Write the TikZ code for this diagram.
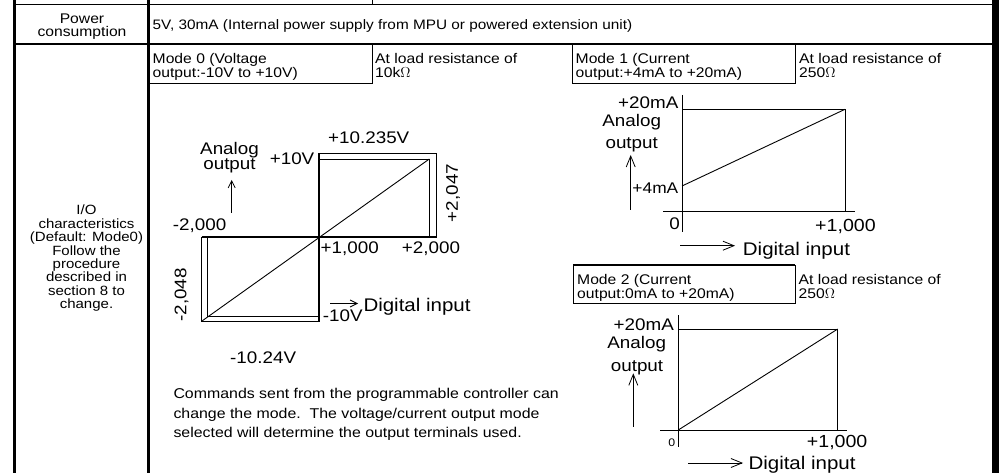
\documentclass[tikz,border=0pt]{standalone}
\usepackage{fontspec}
\setmainfont{Liberation Sans}[FakeStretch=1.12]
\usetikzlibrary{arrows.meta}
\begin{document}
\begin{tikzpicture}[x=1pt,y=-1pt,
  thinline/.style={line width=0.9pt},
  axisline/.style={line width=2pt},
  frameline/.style={line width=3pt},
  tbl/.style={inner sep=0pt, font=\fontsize{14}{14}\selectfont},
  sidetxt/.style={inner sep=0pt, font=\fontsize{13.4}{13.4}\selectfont},
  lab/.style={inner sep=0pt, font=\fontsize{16.8}{16.8}\selectfont},
  labk/.style={inner sep=0pt, font=\fontsize{17.5}{17.5}\selectfont},
  labs/.style={inner sep=0pt, font=\fontsize{15.5}{15.5}\selectfont},
  dig/.style={inner sep=0pt, font=\fontsize{18.3}{18.3}\selectfont},
  note/.style={inner sep=0pt, font=\fontsize{14.2}{14.2}\selectfont},
  small/.style={inner sep=0pt, font=\fontsize{11}{11}\selectfont},
  arrA/.style={line width=0.8pt, -{Straight Barb[length=7pt,width=7pt]}},
  arrB/.style={line width=0.8pt, -{Straight Barb[length=11pt,width=9pt]}},
]
\useasboundingbox (0,0) rectangle (999,473);

% ---- table frame
\draw[frameline] (14,0) -- (14,473);
\draw[frameline] (148,0) -- (148,473);
\fill (992,0) rectangle (999,473);
\draw[thinline] (14,4) -- (992,4);
\draw[thinline] (372,0) -- (372,4);
\draw[line width=2.2pt] (14,44) -- (992,44);

% ---- header boxes
\draw[thinline] (148,83) -- (372,83) -- (372,44);
\draw[thinline] (572,44) rectangle (795,83);
\draw[thinline] (573,265) rectangle (795,303);
\draw[line width=1.8pt] (573,265) -- (795,265);

% ---- table texts
\node[tbl, anchor=base] (pw1) at (82,24) {Power};
\node[tbl, anchor=base] (pw2) at (82,37) {consumption};
\node[tbl, anchor=base west, font=\fontsize{13.7}{13.7}\selectfont] (pwv) at (152.5,29.5) {5V, 30mA (Internal power supply from MPU or powered extension unit)};

\node[sidetxt, anchor=base] (io1) at (86.5,215) {I/O};
\node[sidetxt, anchor=base] (io2) at (86.5,228.4) {characteristics};
\node[sidetxt, anchor=base] (io3) at (86.5,241.7) {(Default: Mode0)};
\node[sidetxt, anchor=base] (io4) at (86.5,255.1) {Follow the};
\node[sidetxt, anchor=base] (io5) at (86.5,268.4) {procedure};
\node[sidetxt, anchor=base] (io6) at (86.5,281.8) {described in};
\node[sidetxt, anchor=base] (io7) at (86.5,295.1) {section 8 to};
\node[sidetxt, anchor=base] (io8) at (86.5,308.5) {change.};

\node[tbl, anchor=base west] (m0a) at (152.5,63.3) {Mode 0 (Voltage};
\node[tbl, anchor=base west] (m0b) at (152.5,77.3) {output:-10V to +10V)};
\node[tbl, anchor=base west] (r0a) at (375,63.3) {At load resistance of};
\node[tbl, anchor=base west] (r0b) at (375,77.3) {10k$\Omega$};

\node[tbl, anchor=base west] (m1a) at (575.5,63.3) {Mode 1 (Current};
\node[tbl, anchor=base west] (m1b) at (575.5,77.3) {output:+4mA to +20mA)};
\node[tbl, anchor=base west] (r1a) at (799,63.3) {At load resistance of};
\node[tbl, anchor=base west] (r1b) at (799,77.3) {250$\Omega$};

\node[tbl, anchor=base west] (m2a) at (577,284.5) {Mode 2 (Current};
\node[tbl, anchor=base west] (m2b) at (577,298.5) {output:0mA to +20mA)};
\node[tbl, anchor=base west] (r2a) at (798.5,284.5) {At load resistance of};
\node[tbl, anchor=base west] (r2b) at (798.5,298.5) {250$\Omega$};

% ---- Mode 0 chart
\draw[thinline] (319,153.3) -- (436.7,153.3) -- (436.7,237.3);
\draw[thinline] (319,159) -- (429.3,159) -- (429.3,237.3);
\draw[thinline] (201.7,237.3) -- (201.7,321.7) -- (319,321.7);
\draw[thinline] (207.7,237.3) -- (207.7,316) -- (319,316);
\draw[axisline] (201.7,237.3) -- (436.7,237.3);
\draw[axisline] (319,153.3) -- (319,321.7);
\draw[thinline] (202,321) -- (429.3,159);

\node[lab, anchor=base west] (v1) at (328,144) {+10.235V};
\node[lab, anchor=base east] (v2) at (314.5,165) {+10V};
\node[lab, anchor=base] (an0a) at (229.5,154.5) {Analog};
\node[lab, anchor=base] (an0b) at (229.5,170) {output};
\coordinate (u0s) at (231.7,212.7);
\coordinate (u0e) at (231.7,180);
\draw[arrA] (u0s) -- (u0e);
\node[lab, anchor=base west] (d1) at (172.7,231) {-2,000};
\node[lab, anchor=base west] (d2) at (320.5,253.3) {+1,000};
\node[lab, anchor=base west] (d3) at (401.7,253.3) {+2,000};
\node[lab, rotate=90] (d4) at (453,193) {+2,047};
\node[lab, rotate=90] (d5) at (181.5,295) {-2,048};
\coordinate (h0s) at (330,303.5);
\coordinate (h0e) at (358,303.5);
\draw[arrA] (h0s) -- (h0e);
\node[dig, anchor=base west] (di0) at (363.3,311) {Digital input};
\node[lab, anchor=base west] (v3) at (322.7,321) {-10V};
\node[lab, anchor=base west] (v4) at (230,363.3) {-10.24V};

\node[note, anchor=base west] (c1) at (173.3,398) {Commands sent from the programmable controller can};
\node[note, anchor=base west] (c2) at (173.3,418) {change the mode.\ \ The voltage/current output mode};
\node[note, anchor=base west] (c3) at (173.3,437) {selected will determine the output terminals used.};

% ---- Mode 1 chart
\draw[thinline] (682,95) -- (682,231.7);
\draw[thinline] (682,109.3) -- (845,109.3) -- (845,211);
\draw[thinline] (663.3,211) -- (855,211);
\draw[thinline] (682,186) -- (845,109.3);
\node[lab, anchor=base east] (i1) at (678.5,108.5) {+20mA};
\node[lab, anchor=base] (an1a) at (631.7,126.7) {Analog};
\node[lab, anchor=base] (an1b) at (631.7,148.3) {output};
\coordinate (u1s) at (630.7,210);
\coordinate (u1e) at (630.7,155);
\draw[arrB] (u1s) -- (u1e);
\node[labs, anchor=base east] (i2) at (678.5,193.3) {+4mA};
\node[lab, anchor=base] (z1) at (674.5,230) {0};
\node[labk, anchor=base west] (k1) at (815,231.7) {+1,000};
\coordinate (h1s) at (680,245.7);
\coordinate (h1e) at (735,245.7);
\draw[arrB] (h1s) -- (h1e);
\node[dig, anchor=base west] (di1) at (742.7,255.5) {Digital input};

% ---- Mode 2 chart
\draw[thinline] (678.3,315) -- (678.3,446.7);
\draw[thinline] (678.3,329) -- (837.7,329) -- (837.7,430);
\draw[thinline] (660,430) -- (847,430);
\draw[thinline] (678.3,430) -- (837.7,329);
\node[lab, anchor=base east] (j1) at (674,330) {+20mA};
\node[lab, anchor=base] (an2a) at (636.7,348.3) {Analog};
\node[lab, anchor=base] (an2b) at (637,371.7) {output};
\coordinate (u2s) at (633.3,426.7);
\coordinate (u2e) at (633.3,373.3);
\draw[arrB] (u2s) -- (u2e);
\node[small, anchor=base] (z2) at (671.7,446) {0};
\node[labk, anchor=base west] (k2) at (806.7,447) {+1,000};
\coordinate (h2s) at (688,463);
\coordinate (h2e) at (743,463);
\draw[arrB] (h2s) -- (h2e);
\node[dig, anchor=base west] (di2) at (748.3,469) {Digital input};
\end{tikzpicture}
\end{document}
